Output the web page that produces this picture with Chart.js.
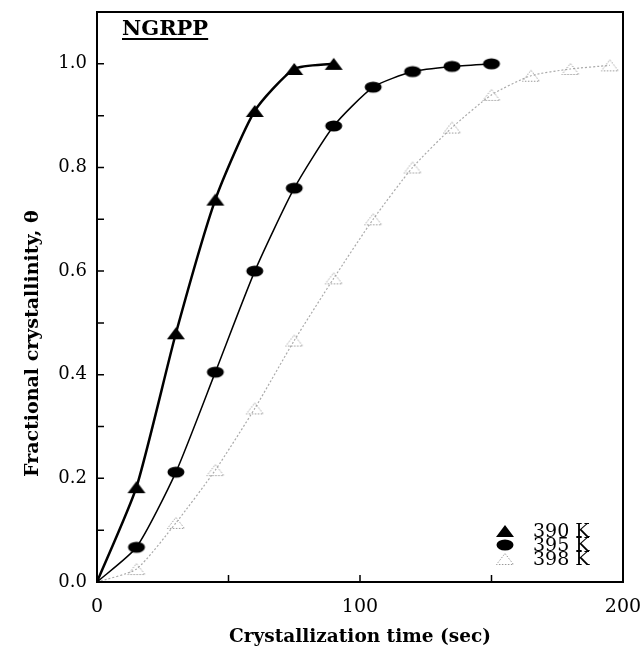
<!DOCTYPE html>
<html>
<head>
<meta charset="utf-8">
<script src="https://cdn.jsdelivr.net/npm/chart.js@4"></script>
<style>
  html, body { margin: 0; padding: 0; background: #fff; }
  #wrap { width: 641px; height: 652px; }
</style>
</head>
<body>
<div id="wrap"><canvas id="myChart" width="641" height="652"></canvas></div>
<script>
// data
const time390 = [0, 15, 30, 45, 60, 75, 90];
const theta390 = [0, 0.183, 0.48, 0.738, 0.909, 0.99, 1.0];

const time395 = [0, 15, 30, 45, 60, 75, 90, 105, 120, 135, 150];
const theta395 = [0, 0.067, 0.212, 0.405, 0.60, 0.76, 0.88, 0.955, 0.985, 0.995, 1.0];

const time398 = [0, 15, 30, 45, 60, 75, 90, 105, 120, 135, 150, 165, 180, 195];
const theta398 = [0, 0.025, 0.114, 0.216, 0.335, 0.466, 0.586, 0.70, 0.80, 0.877, 0.94, 0.977, 0.99, 0.997];

const seriesLabels = ["390 K", "395 K", "398 K"];
const xTicks = [0, 100, 200];
const yTicks = [0, 0.2, 0.4, 0.6, 0.8, 1.0];
const xMinorTicks = [50, 150];
const yMinorTicks = [0.1, 0.3, 0.5, 0.7, 0.9];
const yTitle = "Fractional crystallinity, \u03b8";

const serif = "'DejaVu Serif', serif";

// marker images
function makeMarker(kind) {
    let c = document.createElement("canvas");
    c.width = 20; c.height = 14;
    let g = c.getContext("2d");
    if (kind == "tri") {
        g.fillStyle = "#000";
        g.beginPath(); g.moveTo(10, 1); g.lineTo(19, 13); g.lineTo(1, 13); g.closePath(); g.fill();
    } else if (kind == "ell") {
        g.fillStyle = "#000";
        g.beginPath(); g.ellipse(10, 7, 8.5, 5.5, 0, 0, Math.PI * 2); g.fill();
    } else {
        g.strokeStyle = "#999";
        g.lineWidth = 1;
        g.setLineDash([1.5, 1.5]);
        g.beginPath(); g.moveTo(10, 1.5); g.lineTo(18.5, 12.5); g.lineTo(1.5, 12.5); g.closePath(); g.stroke();
    }
    return c;
}
const markers = [makeMarker("tri"), makeMarker("ell"), makeMarker("open")];

function pts(xs, ys) {
    return xs.map((x, i) => ({ x: x, y: ys[i] }));
}
function radii(n, first) {
    return Array.from({ length: n }, (_, i) => i == 0 ? first : 8);
}

/*
    frame, inward ticks, y title, NGRPP label and the legend in the bottom right corner
*/
const extras = {
    id: "extras",
    afterDraw(chart) {
        const ctx = chart.ctx;
        const a = chart.chartArea;
        const xs = chart.scales.x, ys = chart.scales.y;
        ctx.save();
        ctx.strokeStyle = "#000";
        ctx.lineWidth = 2;
        ctx.strokeRect(a.left, a.top, a.right - a.left, a.bottom - a.top);

        ctx.lineWidth = 1.5;
        ctx.beginPath();
        xTicks.concat(xMinorTicks).forEach(v => {
            let px = xs.getPixelForValue(v);
            ctx.moveTo(px, a.bottom); ctx.lineTo(px, a.bottom - 7);
        });
        yTicks.concat(yMinorTicks).forEach(v => {
            let py = ys.getPixelForValue(v);
            ctx.moveTo(a.left, py); ctx.lineTo(a.left + 7, py);
        });
        ctx.stroke();

        ctx.fillStyle = "#000";

        // y title, sits a bit lower than the middle of the axis
        ctx.save();
        ctx.font = "bold 19px " + serif;
        ctx.textAlign = "center";
        ctx.textBaseline = "middle";
        ctx.translate(33, ys.getPixelForValue(0.46));
        ctx.rotate(-Math.PI / 2);
        ctx.fillText(yTitle, 0, 0);
        ctx.restore();

        // panel label
        ctx.font = "bold 21px " + serif;
        ctx.textBaseline = "alphabetic";
        ctx.textAlign = "left";
        let tx = a.left + 25, ty = a.top + 23;
        ctx.fillText("NGRPP", tx, ty);
        let w = ctx.measureText("NGRPP").width;
        ctx.fillRect(tx, ty + 3, w, 2);

        // legend
        ctx.font = "19px " + serif;
        ctx.textBaseline = "middle";
        seriesLabels.forEach((lab, i) => {
            let y = a.bottom - 51 + i * 14;
            let m = markers[i];
            ctx.drawImage(m, a.right - 128, y - 7);
            ctx.fillText(lab, a.right - 90, y + 1);
        });
        ctx.restore();
    }
};

const ctx = document.getElementById("myChart");
new Chart(ctx, {
    type: "line",
    data: {
        datasets: [{
            label: seriesLabels[0],
            data: pts(time390, theta390),
            borderColor: "#000",
            borderWidth: 2.5,
            pointStyle: markers[0],
            pointRadius: radii(time390.length, 0),
            tension: 0.2
        }, {
            label: seriesLabels[1],
            data: pts(time395, theta395),
            borderColor: "#000",
            borderWidth: 1.5,
            pointStyle: markers[1],
            pointRadius: radii(time395.length, 0),
            tension: 0.2
        }, {
            label: seriesLabels[2],
            data: pts(time398, theta398),
            borderColor: "#aaa",
            borderWidth: 1.2,
            borderDash: [2, 2],
            pointStyle: markers[2],
            pointRadius: radii(time398.length, 8),
            tension: 0.2
        }]
    },
    options: {
        responsive: false,
        animation: false,
        layout: { padding: { top: 12, right: 18, left: 0, bottom: 0 } },
        plugins: {
            legend: { display: false },
            tooltip: { enabled: false }
        },
        scales: {
            x: {
                type: "linear",
                min: 0, max: 200,
                afterBuildTicks: s => { s.ticks = xTicks.map(v => ({ value: v })); },
                afterFit: s => { s.height = 70; s.paddingLeft = 0; s.paddingRight = 0; },
                grid: { display: false },
                border: { display: false },
                ticks: { color: "#000", padding: 6, font: { family: serif, size: 19 } },
                title: {
                    display: true,
                    text: "Crystallization time (sec)",
                    color: "#000",
                    font: { family: serif, size: 18.5, weight: "bold" },
                    padding: { top: 0, bottom: 4 }
                }
            },
            y: {
                min: 0, max: 1.1,
                afterBuildTicks: s => { s.ticks = yTicks.map(v => ({ value: v })); },
                afterFit: s => { s.width = 97; s.paddingTop = 0; s.paddingBottom = 0; },
                grid: { display: false },
                border: { display: false },
                ticks: {
                    color: "#000", padding: 2,
                    font: { family: serif, size: 18 },
                    callback: v => v.toFixed(1)
                }
            }
        }
    },
    plugins: [extras]
});
</script>
</body>
</html>
